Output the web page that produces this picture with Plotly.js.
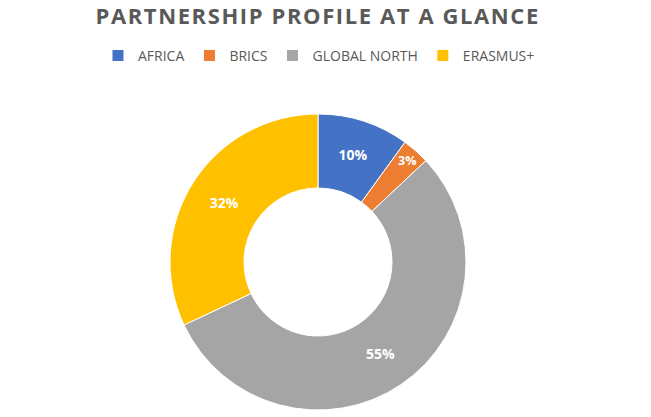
<!DOCTYPE html>
<html>
<head>
<meta charset="utf-8">
<script src="https://cdn.plot.ly/plotly-3.0.1.min.js"></script>
<style>html,body{margin:0;padding:0;background:#fff;}#chart{width:651px;height:417px;}
#chart .gtitle{letter-spacing:1.6px;}</style>
</head>
<body>
<div id="chart"></div>
<script>
const categories = ["AFRICA", "BRICS", "GLOBAL NORTH", "ERASMUS+"];
const shares = [10, 3, 55, 32];
const colors = ["#4472C4", "#ED7D31", "#A5A5A5", "#FFC000"];
const chartTitle = "PARTNERSHIP PROFILE AT A GLANCE";

const cx = 318, cy = 262, r = 148, W = 651, H = 417;

Plotly.newPlot("chart", [{
  type: "pie",
  labels: categories,
  values: shares,
  hole: 0.5,
  sort: false,
  direction: "clockwise",
  rotation: 0,
  marker: {colors: colors, line: {color: "#ffffff", width: 1}},
  textinfo: "percent",
  textposition: "inside",
  insidetextorientation: "horizontal",
  textfont: {family: "Open Sans, sans-serif", size: 14, color: "#ffffff", weight: "bold"},
  domain: {x: [(cx - r) / W, (cx + r) / W], y: [(H - cy - r) / H, (H - cy + r) / H]}
}], {
  width: W, height: H,
  margin: {l: 0, r: 0, t: 0, b: 0},
  paper_bgcolor: "#ffffff",
  title: {text: chartTitle, x: 0.488, xanchor: "center", y: 0.962, yanchor: "middle",
          font: {family: "Open Sans, sans-serif", size: 22, color: "#595959", weight: "bold"}},
  showlegend: true,
  legend: {orientation: "h", x: 0.49, xanchor: "center", y: 0.866, yanchor: "middle",
           font: {family: "Open Sans, sans-serif", size: 14, color: "#595959"},
           itemwidth: 30, traceorder: "normal"}
}, {displayModeBar: false, staticPlot: true});
</script>
</body>
</html>
